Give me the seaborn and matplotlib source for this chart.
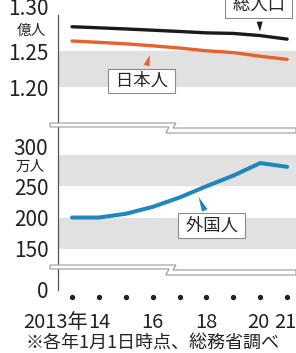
import matplotlib
matplotlib.use('Agg')
import matplotlib.pyplot as plt
import matplotlib.transforms as mtransforms
from matplotlib.patches import Polygon
import seaborn as sns

# 日本の人口 (毎年1月1日時点)
years = [2013, 2014, 2015, 2016, 2017, 2018, 2019, 2020, 2021]
total = [1.2837, 1.2822, 1.2806, 1.2789, 1.2771, 1.2752, 1.2744, 1.2714, 1.2665]      # 億人
japanese = [1.2639, 1.2620, 1.2600, 1.2572, 1.2541, 1.2503, 1.2478, 1.2427, 1.2384]   # 億人
foreign = [200, 200, 206, 217, 232, 250, 267, 287, 281]                               # 万人

top_ticks = [1.20, 1.25, 1.30]
top_labels = ['1.20', '1.25', '1.30']
mid_ticks = [150, 200, 250, 300]
mid_labels = ['150', '200', '250', '300']
x_ticks = [2013, 2014, 2016, 2018, 2020, 2021]
x_labels = ['2013年', '14', '16', '18', '20', '21']

sns.set_style('white')
plt.rcParams['font.family'] = ['Noto Sans CJK JP', 'DejaVu Sans']

W, H = 296, 353
fig = plt.figure(figsize=(W / 100, H / 100), dpi=100)


def rect(top, bottom):
    return [58 / W, 1 - bottom / H, (W - 58) / W, (bottom - top) / H]


ax_top = fig.add_axes(rect(15, 123))
ax_mid = fig.add_axes(rect(123, 272))
ax_bot = fig.add_axes(rect(272, 300))

axis_col = '#555555'
band_col = '#e1e1e1'
for ax in (ax_top, ax_mid, ax_bot):
    ax.set_xlim(2012.48, 2021.33)
    ax.patch.set_alpha(0)
    for s in ('top', 'right', 'bottom'):
        ax.spines[s].set_visible(False)
    ax.spines['left'].set_color(axis_col)
    ax.spines['left'].set_linewidth(0.9)
    ax.tick_params(axis='y', length=4, width=0.9, color=axis_col, pad=3,
                   labelsize=15, labelcolor='#222222')

# 上段: 総人口と日本人
ax_top.axhspan(1.20, 1.25, color=band_col, lw=0, zorder=0)
sns.lineplot(x=years, y=total, ax=ax_top, color='#1a1a1a', lw=2.4)
sns.lineplot(x=years, y=japanese, ax=ax_top, color='#e8612c', lw=2.4)
ax_top.set_ylim(1.15, 1.30)
ax_top.set_yticks(top_ticks, top_labels)
ax_top.get_yticklabels()[-1].set_va('baseline')
ax_top.set_xticks([])
ax_top.set(xlabel='', ylabel='')

# 中段: 外国人
ax_mid.axhspan(150, 200, color=band_col, lw=0, zorder=0)
ax_mid.axhspan(250, 300, color=band_col, lw=0, zorder=0)
sns.lineplot(x=years, y=foreign, ax=ax_mid, color='#1f86c0', lw=2.9)
ax_mid.set_ylim(113, 351)
ax_mid.set_yticks(mid_ticks, mid_labels)
ax_mid.get_yticklabels()[-1].set_va('baseline')
ax_mid.set_xticks([])
ax_mid.set(xlabel='', ylabel='')

# 下段: 0 と年の目盛り
ax_bot.set_ylim(-10, 18)
ax_bot.set_yticks([0], ['0'])
ax_bot.spines['left'].set_bounds(0, 18)
ax_bot.scatter(years, [0.11] * len(years), transform=ax_bot.get_xaxis_transform(),
               s=8, color='#222222', clip_on=False, zorder=3)
ax_bot.set_xticks(x_ticks, x_labels)
ax_bot.tick_params(axis='x', length=0, pad=8.5, labelsize=14.5, labelcolor='#222222')


def shift(label, px):
    label.set_transform(label.get_transform() +
                        mtransforms.ScaledTranslation(px / 100, 0, fig.dpi_scale_trans))


xlabs = ax_bot.get_xticklabels()
xlabs[0].set_ha('right')
shift(xlabs[0], 16)
shift(xlabs[-2], -2)
shift(xlabs[-1], -2)

# 単位
fig.text(31 / W, 1 - 31 / H, '億人', fontsize=10.5, ha='center', va='center', color='#222222')
fig.text(30 / W, 1 - 167 / H, '万人', fontsize=10.5, ha='center', va='center', color='#222222')

# ラベル
bbox = dict(boxstyle='square,pad=0.2', fc='white', ec='#8a8a8a', lw=0.8)
ax_top.annotate(' 総人口 ', xy=(years[7], total[7]), xytext=(2019.95, 1.3125),
                ha='center', va='center', fontsize=12.5, bbox=bbox, annotation_clip=False,
                arrowprops=dict(arrowstyle='wedge,tail_width=0.35', fc='#1a1a1a', ec='none', shrinkB=3))
ax_top.annotate(' 日本人 ', xy=(years[3], japanese[3]), xytext=(2015.6, 1.2083),
                ha='center', va='center', fontsize=12.5, bbox=bbox, annotation_clip=False,
                arrowprops=dict(arrowstyle='wedge,tail_width=0.35', fc='#e8612c', ec='none', shrinkB=7))
ax_mid.annotate(' 外国人 ', xy=(2017.6, 243), xytext=(2018.2, 186.7),
                ha='center', va='center', fontsize=12.5, bbox=bbox, annotation_clip=False,
                arrowprops=dict(arrowstyle='wedge,tail_width=0.35', fc='#1f86c0', ec='none', shrinkB=5))

# 省略記号
def ribbon(dy):
    pts = [(50, 123), (176, 123), (173, 128), (296, 128), (296, 133),
           (166, 133), (169, 127), (50, 127)]
    return Polygon([(x / W, 1 - (y + dy) / H) for x, y in pts], closed=True,
                   transform=fig.transFigure, fc='white', ec='#9a9a9a', lw=0.8, zorder=5)


fig.add_artist(ribbon(0))
fig.add_artist(ribbon(142))

fig.text(25 / W, 1 - 343 / H, '※各年1月1日時点、総務省調べ', fontsize=13,
         ha='left', va='center', color='#222222')

fig.savefig('out.png', dpi=100)
